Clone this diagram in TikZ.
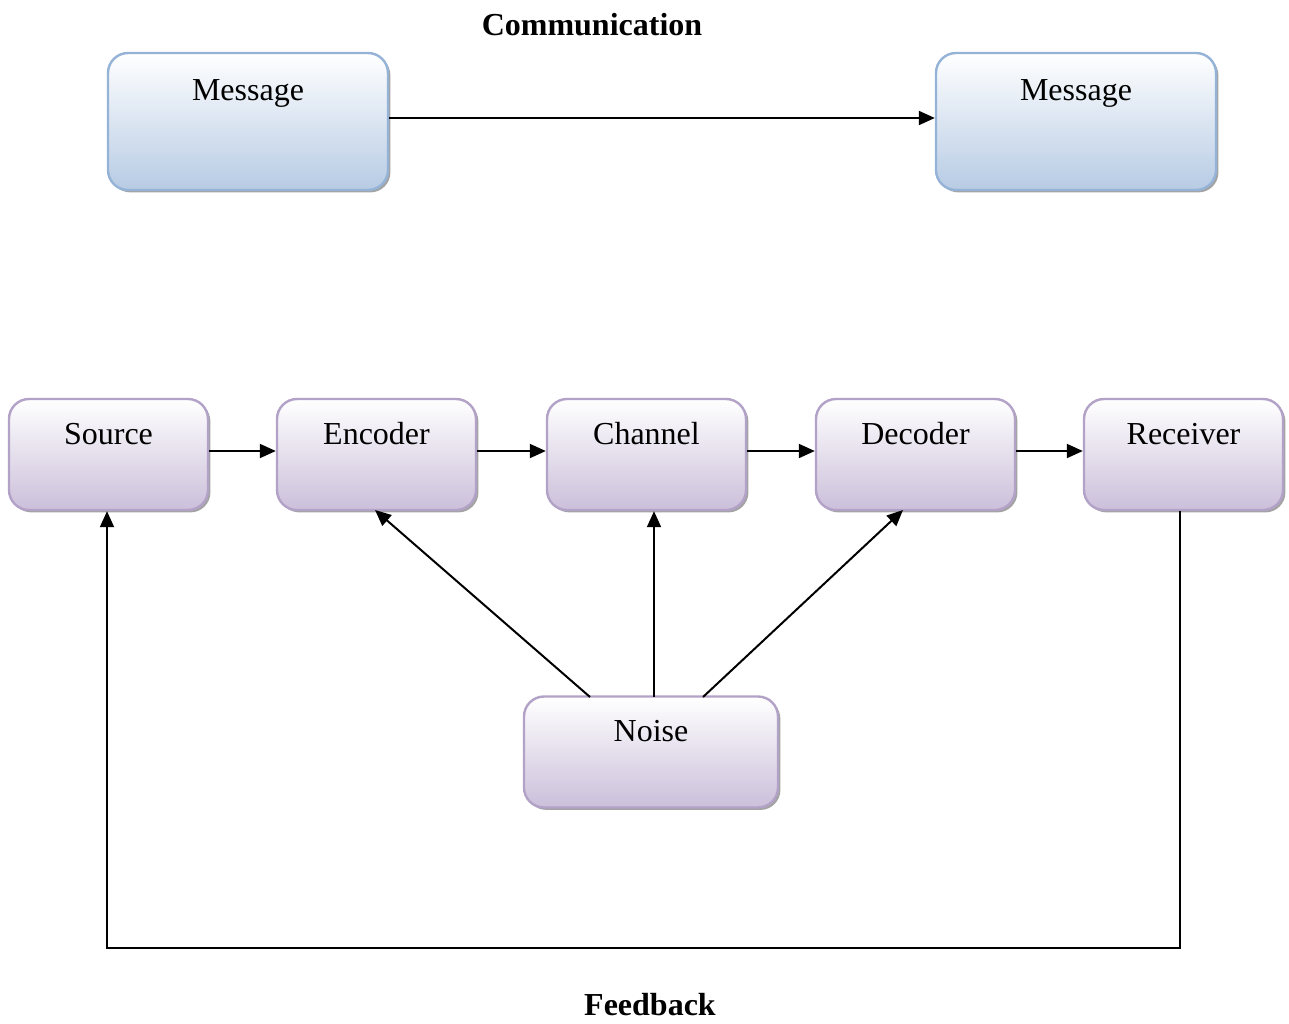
\documentclass[tikz,border=0pt]{standalone}
\usepackage{fontspec}
\setmainfont{Liberation Serif}
\usetikzlibrary{arrows.meta,shadows}
\definecolor{blueedge}{HTML}{95B3D7}
\definecolor{bluefill}{HTML}{B7CBE4}
\definecolor{purpedge}{HTML}{B3A2C7}
\definecolor{purpfill}{HTML}{CBBFDA}
\begin{document}
\begin{tikzpicture}[x=0.5pt,y=-0.5pt,
  every node/.style={font=\fontsize{16}{19}\selectfont},
  basebox/.style 2 args={rectangle, rounded corners=10pt, line width=1.2pt, inner sep=0pt,
    drop shadow={shadow xshift=1.2pt, shadow yshift=-1.2pt, fill=black!45, opacity=0.8},
    label={[anchor=center, yshift=#2]north:#1}},
  bluebox/.style={basebox={#1}{-21pt}, draw=blueedge, top color=white, bottom color=bluefill,
    minimum width=140pt, minimum height=68.5pt},
  purpbox/.style={basebox={#1}{-18pt}, draw=purpedge, top color=white, bottom color=purpfill,
    minimum width=99.5pt, minimum height=55.5pt},
  arr/.style={line width=1pt, -{Triangle[length=8pt,width=7pt]}},
  title/.style={font=\fontsize{16}{19}\selectfont\bfseries}
]
\useasboundingbox (0,0) rectangle (1289,1023);

\node[title] (comm) at (592,25) {Communication};
\node[bluebox=Message] (m1) at (248,121.5) {};
\node[bluebox=Message] (m2) at (1076,121.5) {};
\draw[arr] (m1.east |- 0,118) coordinate (a1) -- (m2.west |- a1);

\node[purpbox=Source]   (src) at (108.5,454.5) {};
\node[purpbox=Encoder]  (enc) at (376.5,454.5) {};
\node[purpbox=Channel]  (chn) at (646.5,454.5) {};
\node[purpbox=Decoder]  (dec) at (915.5,454.5) {};
\node[purpbox=Receiver] (rcv) at (1183.5,454.5) {};
\node[purpbox=Noise, minimum width=127pt] (noise) at (651,752) {};

\foreach \a/\b in {src/enc, enc/chn, chn/dec, dec/rcv}
  \draw[arr] (\a.east |- 0,451) coordinate (t) -- (\b.west |- t);

\coordinate (n1) at (590,697);
\coordinate (n2) at (654,697);
\coordinate (n3) at (703,697);
\draw[arr] (n1) -- (375,510) coordinate (e1);
\draw[arr] (n2) -- (chn.south -| n2);
\draw[arr] (n3) -- (903,510) coordinate (d1);

\coordinate (fbR) at (1180,948);
\coordinate (fbL) at (107,948);
\draw[arr] (rcv.south -| fbR) -- (fbR) -- (fbL) -- (src.south -| fbL);

\node[title] (fb) at (650,1005) {Feedback};
\end{tikzpicture}
\end{document}
